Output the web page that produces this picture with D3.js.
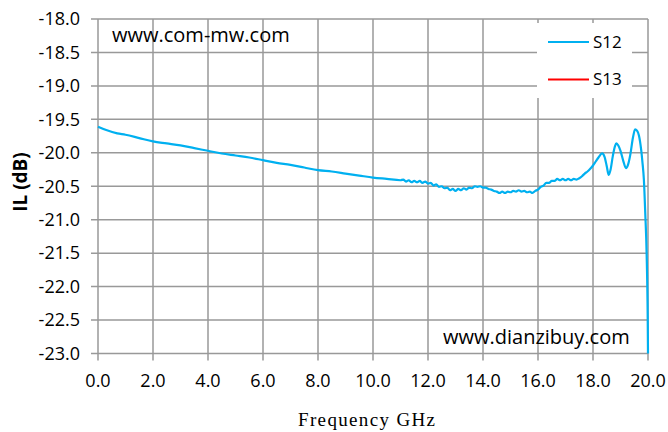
<!DOCTYPE html>
<html lang="en">
<head>
<meta charset="utf-8">
<title>IL chart</title>
<script src="https://d3js.org/d3.v7.min.js"></script>
<style>
  body { margin: 0; background: #fff; }
  text { font-family: "Open Sans", Lato, sans-serif; fill: #000; }
</style>
</head>
<body>
<div id="chart"></div>
<script>
// frequency (GHz) and S12 insertion loss (dB)
var freq = [0.0, 0.3, 0.7, 1.0, 1.5, 2.0, 2.5, 3.0, 3.5, 4.0, 4.5, 5.0, 5.5, 6.0, 6.5, 7.0, 7.5, 8.0, 8.5, 9.0, 9.5, 10.0, 10.5,
  11.0, 11.1, 11.2, 11.3, 11.4, 11.5, 11.6, 11.7, 11.8, 11.9, 12.0, 12.1, 12.2, 12.3, 12.4, 12.5, 12.6, 12.7, 12.8, 12.9,
  13.0, 13.1, 13.2, 13.3, 13.4, 13.5, 13.6, 13.7, 13.8, 13.9, 14.0, 14.1, 14.2, 14.3, 14.4, 14.5, 14.6, 14.7, 14.8, 14.9,
  15.0, 15.1, 15.2, 15.3, 15.4, 15.5, 15.6, 15.7, 15.8, 15.9, 16.0, 16.1, 16.2, 16.3, 16.4, 16.5, 16.6, 16.7, 16.8, 16.9,
  17.0, 17.1, 17.2, 17.3, 17.4, 17.5, 17.6, 17.7, 17.8, 17.9, 18.0, 18.1, 18.2, 18.33, 18.42, 18.5, 18.57, 18.64, 18.72,
  18.8, 18.85, 18.92, 19.0, 19.1, 19.2, 19.28, 19.36, 19.45, 19.53, 19.6, 19.67, 19.75, 19.8, 19.85, 19.9, 19.95, 19.99, 20.0];
var s12 = [-19.61, -19.66, -19.71, -19.73, -19.78, -19.83, -19.86, -19.89, -19.93, -19.97, -20.01, -20.04, -20.07, -20.11, -20.15, -20.18, -20.22, -20.26, -20.28, -20.31, -20.34, -20.37, -20.39,
  -20.41, -20.40, -20.43, -20.41, -20.44, -20.42, -20.44, -20.42, -20.45, -20.43, -20.46, -20.45, -20.49, -20.47, -20.51, -20.50, -20.53, -20.52, -20.56, -20.54,
  -20.57, -20.54, -20.56, -20.53, -20.55, -20.52, -20.53, -20.50, -20.51, -20.50, -20.52, -20.52, -20.54, -20.55, -20.57, -20.58, -20.60, -20.58, -20.60, -20.58,
  -20.59, -20.57, -20.58, -20.56, -20.58, -20.57, -20.59, -20.58, -20.60, -20.57, -20.55, -20.51, -20.49, -20.45, -20.45, -20.42, -20.42, -20.39, -20.41, -20.39,
  -20.41, -20.39, -20.41, -20.39, -20.40, -20.38, -20.35, -20.31, -20.28, -20.24, -20.19, -20.13, -20.07, -20.01, -20.06, -20.20, -20.33, -20.25, -20.05,
  -19.90, -19.86, -19.89, -19.97, -20.12, -20.23, -20.17, -20.02, -19.78, -19.65, -19.67, -19.74, -19.95, -20.15, -20.4, -20.9, -21.5, -22.5, -23.0];

var xTicks = [0, 2, 4, 6, 8, 10, 12, 14, 16, 18, 20];
var yTicks = [-18.0, -18.5, -19.0, -19.5, -20.0, -20.5, -21.0, -21.5, -22.0, -22.5, -23.0];
var seriesNames = ["S12", "S13"];
var seriesColors = ["#00b0f0", "#ff0000"];

var w = 668, h = 432;
var plotL = 98, plotR = 648, plotT = 19, plotB = 353.5;

var svg = d3.select("#chart").append("svg")
  .attr("width", w).attr("height", h);

var x = d3.scaleLinear().domain([0, 20]).range([plotL, plotR]);
var y = d3.scaleLinear().domain([-18, -23]).range([plotT, plotB]);

// grid + tick marks
svg.append("g").selectAll("line").data(yTicks).join("line")
  .attr("x1", plotL - 7).attr("x2", plotR)
  .attr("y1", d => y(d)).attr("y2", d => y(d))
  .attr("stroke", "#999").attr("stroke-width", 1.5);
svg.append("g").selectAll("line").data(xTicks).join("line")
  .attr("x1", d => x(d)).attr("x2", d => x(d))
  .attr("y1", plotT).attr("y2", plotB + 7)
  .attr("stroke", "#999").attr("stroke-width", 1.5);

// tick labels (plain hyphen minus like the original)
svg.append("g").selectAll("text").data(yTicks).join("text")
  .attr("x", 80).attr("y", d => y(d)).attr("dy", "0.35em")
  .attr("text-anchor", "end").style("font-size", "18px")
  .text(d => d.toFixed(1));
svg.append("g").selectAll("text").data(xTicks).join("text")
  .attr("x", d => x(d)).attr("y", 387)
  .attr("text-anchor", "middle").style("font-size", "18px")
  .text(d => d.toFixed(1));

// legend box
var lg = svg.append("g");
lg.append("rect").attr("x", 537).attr("y", 23).attr("width", 95).attr("height", 75).attr("fill", "#fff");
seriesNames.forEach(function(name, i) {
  var ly = 42 + i * 37.5;
  lg.append("line").attr("x1", 548).attr("x2", 589).attr("y1", ly).attr("y2", ly)
    .attr("stroke", seriesColors[i]).attr("stroke-width", 2);
  lg.append("text").attr("x", 593).attr("y", ly).attr("dy", "0.35em")
    .style("font-size", "17px").text(name);
});

// S12 curve
var line = d3.line()
  .x((d, i) => x(freq[i]))
  .y(d => y(d))
  .curve(d3.curveMonotoneX);
svg.append("path").datum(s12)
  .attr("d", line)
  .attr("fill", "none")
  .attr("stroke", seriesColors[0])
  .attr("stroke-width", 2.2);

// watermarks
svg.append("text").attr("x", 112).attr("y", 42).style("font-size", "20px").text("www.com-mw.com");
svg.append("text").attr("x", 443).attr("y", 344).style("font-size", "20px").text("www.dianzibuy.com");

// axis titles
svg.append("text")
  .attr("transform", "translate(27,182) rotate(-90)")
  .attr("text-anchor", "middle")
  .style("font-size", "19px").style("font-weight", "bold")
  .text("IL (dB)");
svg.append("text")
  .attr("x", 298).attr("y", 426)
  .attr("textLength", 137).attr("lengthAdjust", "spacing")
  .style("font-family", "'Liberation Serif', serif").style("font-size", "19px")
  .text("Frequency GHz");
</script>
</body>
</html>
